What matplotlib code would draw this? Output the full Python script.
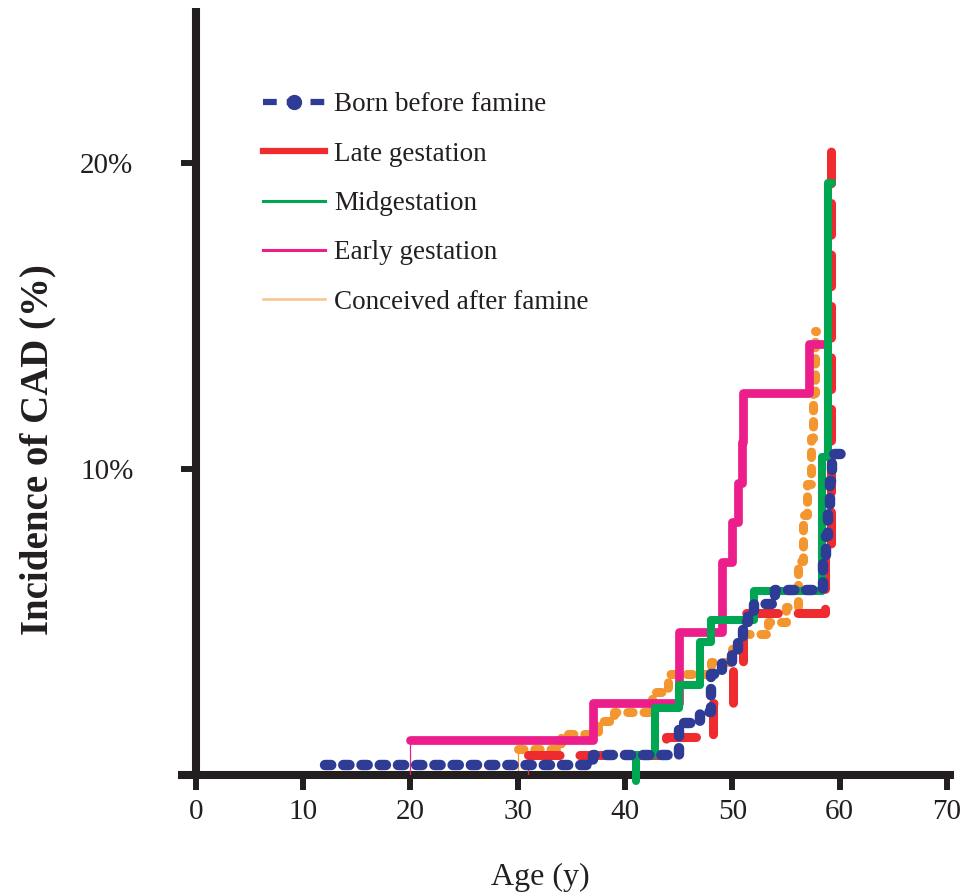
import matplotlib
matplotlib.use("Agg")
import matplotlib.pyplot as plt
from matplotlib.lines import Line2D

# ---------------- data (age in years, cumulative incidence in %) ----------------
series_names = ["Born before famine", "Late gestation", "Midgestation",
                "Early gestation", "Conceived after famine"]

before_age = [12.0, 37.0, 45.0, 47.0, 48.0, 49.0, 50.0, 50.5, 51.0, 51.5, 52.0, 54.0, 58.5, 58.7, 58.9, 59.1, 59.3]
before_inc = [0.33, 0.65, 1.70, 2.05, 3.30, 3.65, 4.00, 4.50, 5.00, 5.25, 5.60, 6.05, 7.00, 7.80, 8.70, 9.60, 10.50]
before_end = 61.0

late_age = [31.0, 43.8, 48.2, 50.1, 51.0, 58.6, 59.2]
late_inc = [0.65, 1.24, 2.35, 3.65, 5.30, 7.20, 20.40]
late_end = 59.6

mid_age = [41.0, 42.8, 45.0, 47.0, 48.0, 52.0, 58.4, 58.9]
mid_inc = [0.65, 2.20, 2.95, 4.35, 5.07, 6.00, 10.40, 19.35]
mid_end = 59.3

early_age = [20.0, 37.0, 45.0, 49.0, 50.0, 50.5, 50.9, 51.0, 57.2]
early_inc = [1.14, 2.35, 4.67, 6.96, 8.27, 9.54, 10.90, 12.50, 14.10]
early_end = 58.5

after_age = [30.0, 34.0, 37.5, 39.0, 42.5, 44.0, 48.0, 50.0, 50.8, 53.3, 55.0, 56.1, 56.6, 57.0, 57.3, 57.5, 57.7]
after_inc = [0.85, 1.35, 1.75, 2.05, 2.70, 3.30, 3.70, 4.20, 4.60, 5.00, 5.50, 7.00, 8.50, 9.50, 11.00, 12.50, 14.50]
after_end = 57.8

x_ticks = [0, 10, 20, 30, 40, 50, 60, 70]
y_ticks = [0, 10, 20]
y_ticklabels = ["", "10%", "20%"]

# ---------------- styling ----------------
plt.rcParams["font.family"] = ["Liberation Serif", "DejaVu Serif"]
ink = "#231F20"
c_blue, c_red, c_green, c_pink, c_orange = "#2F3C96", "#EE2B2F", "#00A651", "#EC1E8C", "#F3962F"
c_orange_leg = "#F9C38D"

fig = plt.figure(figsize=(9.79, 8.92), dpi=100)
ax = fig.add_axes([182 / 979, 1 - 775 / 892, (950 - 182) / 979, (775 - 8) / 892])
ax.set_xlim(-1.3, 70.3)
ax.set_ylim(0, 25.07)


def stepline(ages, vals, end):
    return ages + [end], vals + [vals[-1]]


# orange (conceived after famine)
x, y = stepline(after_age, after_inc, after_end)
ax.vlines(after_age[0], 0, after_inc[0], color=c_orange, lw=0.9, zorder=2)
ax.step(x, y, where="post", color=c_orange, lw=6.5, ls=(0, (0.6, 1.2)),
        dash_capstyle="round", zorder=2, clip_on=False)

# pink (early gestation)
x, y = stepline(early_age, early_inc, early_end)
ax.vlines(early_age[0], 0, early_inc[0], color=c_pink, lw=0.9, zorder=3)
ax.step(x, y, where="post", color=c_pink, lw=6.3, solid_capstyle="round", zorder=3)

# red (late gestation)
x, y = stepline(late_age, late_inc, late_end)
ax.vlines(late_age[0], 0, late_inc[0], color=c_red, lw=0.9, zorder=4)
ax.step(x, y, where="post", color=c_red, lw=6.5, ls=(0, (3.5, 2.2)),
        dash_capstyle="round", zorder=4)

# green (midgestation)
x, y = stepline(mid_age, mid_inc, mid_end)
x = [mid_age[0]] + x
y = [-0.2] + y
ax.step(x, y, where="post", color=c_green, lw=5.8, solid_capstyle="round", zorder=5, clip_on=False)

# blue (born before famine)
x, y = stepline(before_age, before_inc, before_end)
ax.step(x, y, where="post", color=c_blue, lw=7.5, ls=(0, (0.6, 1.15)),
        dash_capstyle="round", zorder=6)

# ---------------- axes ----------------
for s in ["top", "right"]:
    ax.spines[s].set_visible(False)
ax.spines["left"].set_position(("data", 0))
ax.spines["left"].set_linewidth(5.8)
ax.spines["bottom"].set_linewidth(5.8)
ax.spines["left"].set_color(ink)
ax.spines["bottom"].set_color(ink)
ax.spines["left"].set_capstyle("butt")

ax.set_xticks(x_ticks)
ax.set_xticklabels([str(v) for v in x_ticks])
ax.set_yticks(y_ticks)
ax.set_yticklabels(y_ticklabels)
ax.tick_params(axis="x", direction="out", length=11, width=4.3, color=ink,
               labelsize=21, labelcolor=ink, pad=6)
ax.tick_params(axis="y", direction="out", length=11, width=4.3, color=ink,
               labelsize=21, labelcolor=ink, pad=34)

ax.set_xlabel("Age (y)", fontsize=23, color=ink)
ax.xaxis.set_label_coords(0.466, -0.114)
ax.set_ylabel("Incidence of CAD (%)", fontsize=28, fontweight="bold", color=ink)
ax.yaxis.set_label_coords(-0.164, 0.424)

# ---------------- legend ----------------
handles = [
    Line2D([], [], color=c_blue, lw=4.5, ls=(0, (2.2, 1.6)), marker="o", ms=10),
    Line2D([], [], color=c_red, lw=4.5),
    Line2D([], [], color=c_green, lw=2.2),
    Line2D([], [], color=c_pink, lw=2.2),
    Line2D([], [], color=c_orange_leg, lw=1.8),
]
leg = ax.legend(handles, series_names, loc="upper left", bbox_to_anchor=(0.105, 0.89),
                frameon=False, fontsize=19.5, handlelength=2.3, handletextpad=0.35,
                labelspacing=0.9, borderpad=0, borderaxespad=0, numpoints=1)
for t in leg.get_texts():
    t.set_color(ink)

fig.savefig("out.png", dpi=100)
